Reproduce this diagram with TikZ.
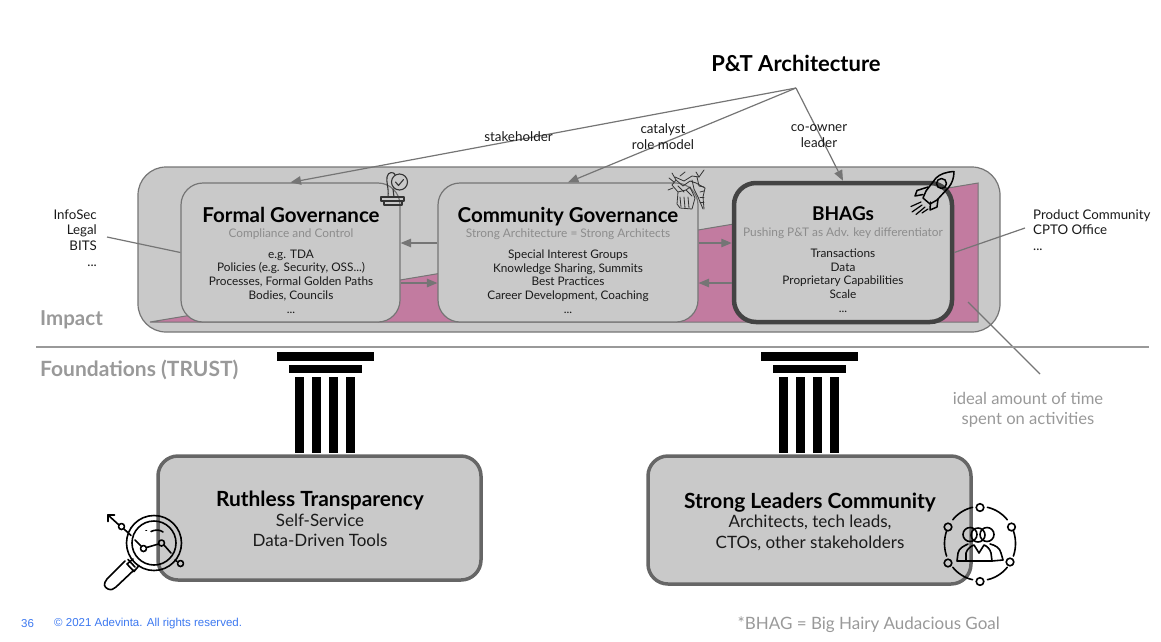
\documentclass[tikz,border=0pt]{standalone}
\usepackage{fontspec}
\setmainfont{Lato}
\newfontfamily\arialf{Liberation Sans}
\usetikzlibrary{arrows.meta}
\definecolor{boxgray}{HTML}{C9C9C9}
\definecolor{edgegray}{HTML}{757575}
\definecolor{darkedge}{HTML}{434343}
\definecolor{midedge}{HTML}{666666}
\definecolor{pinkfill}{HTML}{C27BA0}
\definecolor{softgray}{HTML}{999999}
\definecolor{subgray}{HTML}{8C8C8C}
\definecolor{linkblue}{HTML}{3C78F0}
\definecolor{inkblack}{HTML}{1A1A1A}
\tikzset{
  panel/.style={draw=edgegray,fill=boxgray,line width=1.2pt,rounded corners=#1,inner sep=0pt},
  panel/.default=24pt,
  box/.style={minimum width=#1,minimum height=139pt},
  found/.style={draw=midedge,fill=boxgray,line width=3.5pt,rounded corners=20pt,inner sep=0pt,minimum width=323pt},
  link/.style={draw=edgegray,line width=1.2pt},
  arrowlink/.style={link,-{Triangle[length=10.5pt,width=8.5pt]}},
  headtxt/.style={font=\fontsize{20.5}{24}\selectfont\bfseries,text=black,inner sep=0pt},
  subtxt/.style={font=\fontsize{11.85}{14}\selectfont,text=subgray,inner sep=0pt},
  bodytxt/.style={font=\fontsize{11.8}{13.75}\selectfont,text=inkblack,align=center,inner sep=0pt},
  sidetxt/.style={font=\fontsize{13.3}{15.7}\selectfont,text=inkblack,inner sep=0pt},
  roletxt/.style={font=\fontsize{13.4}{16}\selectfont,text=inkblack,align=center,inner sep=0pt},
  lighttxt/.style={font=\fontsize{16.6}{20}\selectfont,text=softgray,align=center,inner sep=0pt},
  sectxt/.style={font=\fontsize{20.5}{24}\selectfont\bfseries,text=softgray,inner sep=0pt,anchor=west},
  foothead/.style={font=\fontsize{20.9}{24}\selectfont\bfseries,text=black,inner sep=0pt},
  footbody/.style={font=\fontsize{17}{20.5}\selectfont,text=inkblack,align=center,inner sep=0pt},
  icon/.style={draw=black,line width=1.6pt,line cap=round,line join=round},
  sketch/.style={draw=black!80,line width=0.8pt,line cap=round,line join=round},
  pillarpart/.style={fill=black,draw=none},
}
\newcommand{\pillarat}[1]{%
  \fill[pillarpart] (#1+277,352) rectangle (#1+374,361);
  \fill[pillarpart] (#1+289,365) rectangle (#1+362,373);
  \foreach \c in {295,312,329,346}{\fill[pillarpart] (#1+\c,377) rectangle (#1+\c+9,453);}
}
\begin{document}
\begin{tikzpicture}[x=1pt,y=-1pt]
\useasboundingbox (0,0) rectangle (1161,641);
% top panel
\node[panel=28pt,minimum width=862pt,minimum height=165pt] (outer) at (569,249.5) {};
\path[draw=edgegray,fill=pinkfill,line width=1pt] (150,322) -- (978,183) -- (978,322) -- cycle;
\node[panel=22pt,box=219pt] (formal) at (290.5,252.5) {};
\node[panel=22pt,box=260pt] (comm) at (568,252.5) {};
\node[panel=22pt,box=218pt,draw=darkedge,line width=4.5pt] (bhag) at (843,252.5) {};
% title and connectors
\node[font=\fontsize{22}{26}\selectfont\bfseries,inner sep=0pt] (title) at (796,63) {P\&T Architecture};
\coordinate (apex) at (796,88);
\draw[arrowlink] (apex) -- (formal.north);
\draw[arrowlink] (apex) -- (comm.north);
\draw[arrowlink] (apex) -- (bhag.north);
\node[roletxt] (rolea) at (518.5,136.5) {stakeholder};
\node[roletxt] (roleb) at (663,136.5) {catalyst\\role model};
\node[roletxt] (rolec) at (819,136.5) {co-owner\\leader};
% horizontal links
\coordinate (upper) at (0,243);
\coordinate (lower) at (0,283);
\draw[arrowlink] (comm.west |- upper) -- (formal.east |- upper);
\draw[arrowlink] (formal.east |- lower) -- (comm.west |- lower);
\draw[arrowlink] (comm.east |- upper) -- (bhag.west |- upper);
\draw[arrowlink] (bhag.west |- lower) -- (comm.east |- lower);
% panel text
\node[headtxt] (fh) at (291,215) {Formal Governance};
\node[subtxt] (fs) at (291,234) {Compliance and Control};
\node[bodytxt] (fb) at (291,281.5) {e.g. TDA\\Policies (e.g. Security, OSS...)\\Processes, Formal Golden Paths\\Bodies, Councils\\...};
\node[headtxt] (ch) at (568,216.5) {Community Governance};
\node[subtxt] (cs) at (568,234) {Strong Architecture = Strong Architects};
\node[bodytxt] (cb) at (568,281.5) {Special Interest Groups\\Knowledge Sharing, Summits\\Best Practices\\Career Development, Coaching\\...};
\node[font=\fontsize{19}{23}\selectfont\bfseries,inner sep=0pt] (bh) at (843,214) {BHAGs};
\node[subtxt] (bs) at (843,233) {Pushing P\&T as Adv. key differentiator};
\node[bodytxt] (bb) at (843,280.5) {Transactions\\Data\\Proprietary Capabilities\\Scale\\...};
% side labels
\node[sidetxt,align=right,anchor=east] (lefttxt) at (97,238) {InfoSec\\Legal\\BITS\\...};
\node[sidetxt,align=left,anchor=west] (righttxt) at (1033,230) {Product Community\\CPTO Office\\...};
\coordinate (leftend) at (107,237);
\coordinate (rightend) at (1025,228);
\draw[link] (leftend) -- (formal.west);
\draw[link] (rightend) -- (bhag.east);
\coordinate (idealstart) at (968,302);
\coordinate (idealend) at (1040,374);
\draw[link] (idealstart) -- (idealend);
\node[lighttxt] (ideal) at (1028,410) {ideal amount of time\\spent on activities};
% sections
\node[sectxt] (impact) at (40,320) {Impact};
\node[sectxt,font=\fontsize{21}{25}\selectfont\bfseries] (found) at (40,369.5) {Foundations (TRUST)};
\coordinate (rulea) at (36,347);
\coordinate (ruleb) at (1149,347);
\draw[draw=softgray,line width=1.3pt] (rulea) -- (ruleb);
% pillars
\pillarat{0}
\pillarat{484}
% foundation boxes
\node[found,minimum height=124pt] (rt) at (319.5,518) {};
\node[found,minimum height=128pt] (sl) at (809.5,520) {};
\node[foothead] (rth) at (320,500) {Ruthless Transparency};
\node[footbody] (rtb) at (320,530.5) {Self-Service\\Data-Driven Tools};
\node[foothead] (slh) at (810,502.5) {Strong Leaders Community};
\node[footbody] (slb) at (810,533) {Architects, tech leads,\\CTOs, other stakeholders};
% stamp icon
\draw[sketch,line width=1.1pt] (381,197) rectangle (404,201);
\draw[sketch,line width=1.1pt] (384,201) rectangle (402,205);
\draw[sketch,line width=1.1pt] (399.5,182) circle[radius=8pt];
\draw[sketch,line width=1.1pt] (395.5,182) -- (398.5,185.5) -- (403.5,179.5);
\draw[sketch,line width=1.1pt] (388,197) .. controls (389,188) and (386,182) .. (387,177) .. controls (388,171) and (394,172) .. (395,174.5);
\draw[sketch,line width=1.1pt] (394,197) .. controls (394,194) and (393,192) .. (393,189);
% handshake icon
\draw[sketch] (675,177) -- (684,181) -- (692,176) -- (699,177) -- (704,170);
\draw[sketch] (672,173) -- (676,180) -- (672,185) -- (678,192) -- (686,190) -- (690,187);
\draw[sketch] (676,180) -- (683,186) -- (690,181) -- (696,183) -- (705,188);
\draw[sketch] (678,192) -- (677,204) -- (680,208) -- (692,209) -- (695,198) -- (690,187);
\draw[sketch] (680,197) -- (681,207);
\draw[sketch] (684,197) -- (685,208);
\draw[sketch] (688,197) -- (689,208);
\draw[sketch] (692,180) -- (694,189) -- (698,197) -- (703,209);
\draw[sketch] (705,188) -- (703,197) -- (704,209);
\draw[sketch] (697,177) -- (699,186) -- (704,187);
\draw[sketch] (686,190) -- (692,196);
\draw[sketch] (700,192) -- (704,191);
\draw[sketch] (700,197) -- (704,197);
\draw[sketch] (700,202) -- (704,202);
\draw[sketch] (669,178) -- (674,182);
\draw[sketch] (673,188) -- (668,190);
\draw[sketch] (680,176) -- (685,172);
\draw[sketch] (678,186) -- (684,192);
\draw[sketch] (696,172) -- (699,177);
% rocket icon
\draw[icon,line width=1.5pt] (954,171.5) .. controls (946,172) and (940,174) .. (936,178) -- (926,191) -- (923,198) -- (930,204) -- (937,200) -- (949,187) .. controls (952,183) and (954,178) .. (954,171.5);
\draw[icon,line width=1.5pt] (941.5,183.5) circle[radius=5pt];
\draw[icon,line width=1.5pt] (928,187) -- (917,190.5) -- (915,196) -- (923,194.5);
\draw[icon,line width=1.5pt] (938,199) -- (937,207) -- (930,210) -- (930.5,202);
\draw[icon,line width=1.2pt] (921,202) -- (911,206.5);
\draw[icon,line width=1.2pt] (922,205) -- (912,212);
\draw[icon,line width=1.2pt] (925,207) -- (916,214.5);
\draw[icon,line width=1.2pt] (928,209) -- (922,213);
% magnifier icon
\draw[icon] (154,543) circle[radius=27.5pt];
\draw[icon] (154,543) circle[radius=22pt];
\draw[icon] (108,515) -- (119,525);
\draw[icon] (108,515) -- (108,521.5);
\draw[icon] (108,515) -- (114.5,515);
\draw[icon] (121.5,526.5) circle[radius=3pt];
\draw[icon] (124,529) -- (131,535.5);
\draw[icon] (135,540) -- (141,546);
\draw[icon] (143.5,548.5) circle[radius=3pt];
\draw[icon] (146.5,547.5) -- (158.5,544);
\draw[icon] (161.5,543) circle[radius=3pt];
\draw[icon] (164,545) -- (171,553);
\draw[icon] (175,560) -- (177,561.5);
\draw[icon] (180.5,563.5) circle[radius=3pt];
\draw[icon] (151,531.5) .. controls (155,529.5) and (160,529.5) .. (163,532);
\draw[icon] (146,530.5) -- (146.5,530.5);
\draw[icon] (133,559) -- (127,564) -- (134,571.5) -- (139,565.5);
\draw[icon] (128,559.5) -- (135,567);
\draw[icon] (125,561) -- (107,579) .. controls (103,584) and (104,587) .. (108,589) .. controls (111,590.5) and (114,589) .. (116,587) -- (134,570);
% community icon
\foreach \a/\b in {102/140,160/200,220/258,282/320,-20/20,40/78}{
  \draw[icon] plot[domain=\a:\b,samples=12,smooth] ({980+35.5*cos(\x)},{543.5-37*sin(\x)});
}
\foreach \a/\b in {980/507.5,1011.5/527,1010/562,980/581.5,948/563,948/527}{
  \draw[icon] (\a,\b) circle[radius=3.8pt];
}
\draw[icon] (970,534.5) circle[radius=7pt];
\draw[icon] (987,534.5) circle[radius=7pt];
\draw[icon] (978,535) circle[radius=7pt];
\draw[icon] (966,561) -- (957,561) -- (958,553) .. controls (959,548) and (964,546) .. (968,544);
\draw[icon] (990,544) .. controls (995,545) and (1000,548) .. (1001,553) -- (1003,560) -- (992,561);
\draw[icon] (966,561) -- (966,553) .. controls (967,549) and (971,546) .. (974,545) -- (979,553) -- (984,545) .. controls (987,546) and (990,549) .. (991,553) -- (992,561) -- cycle;
% footer
\node[font=\arialf\fontsize{11.5}{13}\selectfont,text=linkblue,inner sep=0pt,anchor=west] (pagenum) at (21,624) {36};
\node[font=\arialf\fontsize{11.5}{13}\selectfont,text=linkblue,inner sep=0pt,anchor=west] (copy) at (54,624) {© 2021 Adevinta. All rights reserved.};
\node[font=\fontsize{17}{20}\selectfont,text=softgray,inner sep=0pt,anchor=east] (note) at (1000,625) {*BHAG = Big Hairy Audacious Goal};
\end{tikzpicture}
\end{document}
